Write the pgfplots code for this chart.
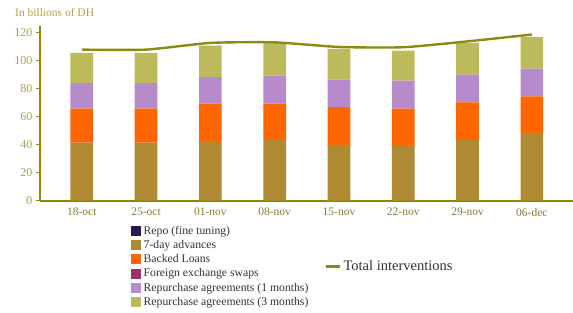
\documentclass[border=0pt]{standalone}
\usepackage{pgfplots}
\pgfplotsset{compat=1.18}
\usepackage{fontspec}
\setmainfont{Liberation Serif}
\definecolor{cBrown}{HTML}{B08A33}
\definecolor{cOrange}{HTML}{FF6600}
\definecolor{cPurple}{HTML}{B78ACB}
\definecolor{cOlive}{HTML}{BDBA5C}
\definecolor{cRepo}{HTML}{2B1850}
\definecolor{cFX}{HTML}{9E3068}
\definecolor{cLine}{HTML}{8C8A10}
\definecolor{cAxis}{HTML}{8A8A00}
\definecolor{cYtick}{HTML}{AFA04A}
\definecolor{cXtick}{HTML}{857A35}
\definecolor{cLeg}{HTML}{333333}
\pgfplotsset{
  sqleg/.style={legend image code/.code={\fill[##1,draw=none] (0pt,-5pt) rectangle (10pt,5pt);}},
  lnleg/.style={legend image code/.code={\draw[##1] (0pt,0pt) -- (14pt,0pt);}},
  common/.style={
    scale only axis, width=533pt, height=174.7pt,
    xmin=-0.65, xmax=7.64, ymin=0, ymax=125,
  }
}
\begin{document}
\begin{tikzpicture}
\path[use as bounding box] (0,0) rectangle (573pt,-313pt);
\node[anchor=base west, text=cYtick, font=\fontsize{11.5}{13}\selectfont, inner sep=0pt] at (15pt,-17pt) {In billions of DH};
\begin{axis}[common,
  at={(40pt,-200.7pt)}, anchor=south west,
  ybar stacked, bar width=22.7pt,
  axis x line=bottom, axis y line=left,
  axis line style={-, cAxis},
  x axis line style={line width=2pt},
  y axis line style={line width=1.3pt},
  xtick={0,...,7},
  xticklabels={18-oct,25-oct,01-nov,08-nov,15-nov,22-nov,29-nov,06-dec},
  xtick style={draw=none},
  ytick={0,20,...,120},
  ytick style={cAxis, line width=1pt},
  tick align=outside, major tick length=4pt,
  yticklabel style={text=cYtick, font=\fontsize{12}{13}\selectfont},
  xticklabel style={text=cXtick, font=\fontsize{11.5}{13}\selectfont},
  /pgf/number format/assume math mode=true,
  legend style={at={(0.1707,-0.137)}, anchor=north west, draw=none, fill=none,
    inner sep=0pt, font=\fontsize{11.7}{12.5}\selectfont, text=cLeg,
    row sep=2.2pt, nodes={inner ysep=1.2pt, inner xsep=2.5pt}},
  legend cell align=left,
  sqleg,
]
\addlegendimage{sqleg, fill=cRepo}
\addlegendentry{Repo (fine tuning)}
\addplot[fill=cBrown, draw=none] coordinates {(0,41.6) (1,41.6) (2,42.6) (3,43.5) (4,40.0) (5,39.2) (6,44.0) (7,48.6)};
\addlegendentry{7-day advances}
\addplot[fill=cOrange, draw=none] coordinates {(0,24.2) (1,24.2) (2,26.8) (3,25.9) (4,27.0) (5,26.6) (6,26.3) (7,26.0)};
\addlegendentry{Backed Loans}
\addlegendimage{sqleg, fill=cFX}
\addlegendentry{Foreign exchange swaps}
\addplot[fill=cPurple, draw=none] coordinates {(0,18.4) (1,18.4) (2,19.1) (3,20.1) (4,19.6) (5,20.1) (6,19.9) (7,19.9)};
\addlegendentry{Repurchase agreements (1 months)}
\addplot[fill=cOlive, draw=none] coordinates {(0,21.5) (1,21.5) (2,22.5) (3,23.4) (4,22.0) (5,21.5) (6,22.7) (7,22.7)};
\addlegendentry{Repurchase agreements (3 months)}
\end{axis}
\begin{axis}[common,
  at={(40pt,-200.7pt)}, anchor=south west,
  axis lines=none,
  legend style={at={(0.5347,-0.3766)}, anchor=west, draw=none, fill=none,
    inner sep=0pt, font=\fontsize{14.5}{16}\selectfont, text=cLeg, nodes={inner sep=2pt}},
  lnleg,
]
\addplot[cLine, line width=2.4pt, smooth, tension=0.35] coordinates {(0,108.1) (1,108.1) (2,112.9) (3,113.3) (4,110.0) (5,109.8) (6,114.0) (7,118.9)};
\addlegendentry{Total interventions}
\end{axis}
\end{tikzpicture}
\end{document}
